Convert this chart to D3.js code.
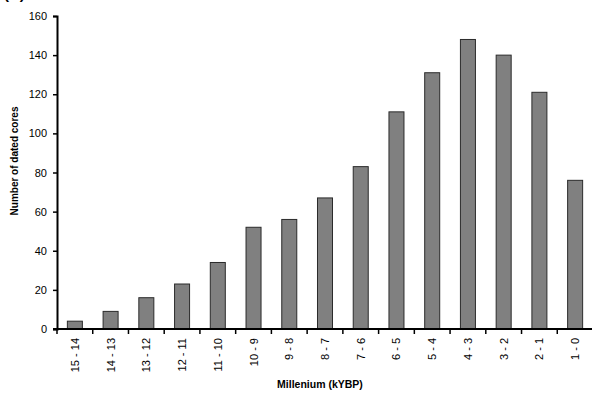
<!DOCTYPE html>
<html lang="en">
<head>
<meta charset="UTF-8">
<title>Dated cores</title>
<script src="https://cdn.jsdelivr.net/npm/d3@7"></script>
<style>
  body { margin: 0; background: #fff; }
  text { font-family: "Liberation Sans", Arial, sans-serif; }
</style>
</head>
<body>
<div class="chart"></div>
<script>
// data
const millennia = ['15 - 14','14 - 13','13 - 12','12 - 11','11 - 10','10 - 9','9 - 8','8 - 7',
                   '7 - 6','6 - 5','5 - 4','4 - 3','3 - 2','2 - 1','1 - 0']
const cores = [4, 9, 16, 23, 34, 52, 56, 67, 83, 111, 131, 148, 140, 121, 76]
const yTicks = [0, 20, 40, 60, 80, 100, 120, 140, 160]

const W = 592, H = 394
const mLeft = 57, mRight = 593, mTop = 16, mBottom = 329

let svg = d3.select('.chart').append('svg').attr('width', W).attr('height', H)

let x = d3.scaleBand().domain(millennia).range([mLeft, mRight]).paddingInner(0.58).paddingOuter(0.29)
let y = d3.scaleLinear().domain([0, 160]).range([mBottom, mTop])

// bars
svg.append('g').selectAll('rect').data(cores).join('rect')
    .attr('x', (d, i) => x(millennia[i]))
    .attr('y', d => y(d))
    .attr('width', x.bandwidth())
    .attr('height', d => y(0) - y(d))
    .attr('fill', '#808080')
    .attr('stroke', '#2b2b2b')
    .attr('stroke-width', 1)

// y axis
let yAxis = d3.axisLeft(y).tickValues(yTicks).tickSize(4).tickPadding(6)
let gy = svg.append('g').attr('transform', `translate(${mLeft},0)`).call(yAxis)
gy.select('.domain').attr('stroke', '#000').attr('stroke-width', 2)
gy.selectAll('.tick line').attr('stroke', '#000').attr('stroke-width', 1.5)
gy.selectAll('.tick text').attr('font-size', 11).attr('fill', '#000')
    .style('font-family', '"Liberation Sans", Arial, sans-serif')

// x axis: ticks between categories
let step = x.step()
let gx = svg.append('g').attr('transform', `translate(0,${mBottom})`)
gx.append('line').attr('x1', mLeft - 4).attr('x2', mRight).attr('stroke', '#000').attr('stroke-width', 2)
gx.selectAll('line.t').data(d3.range(millennia.length + 1)).join('line').attr('class', 't')
    .attr('x1', i => mLeft + i * step).attr('x2', i => mLeft + i * step)
    .attr('y1', 0).attr('y2', 5).attr('stroke', '#000').attr('stroke-width', 1.5)
gx.selectAll('text').data(millennia).join('text')
    .attr('transform', d => `translate(${x(d) + x.bandwidth() / 2 + 4},9) rotate(-90)`)
    .attr('text-anchor', 'end')
    .attr('font-size', 11)
    .text(d => d)

// titles
svg.append('text').attr('transform', 'translate(18,161) rotate(-90)')
    .attr('text-anchor', 'middle').attr('font-size', 10).attr('font-weight', 'bold')
    .text('Number of dated cores')
svg.append('text').attr('x', 320).attr('y', 388)
    .attr('text-anchor', 'middle').attr('font-size', 10.5).attr('font-weight', 'bold')
    .text('Millenium (kYBP)')
svg.append('text').attr('x', 4).attr('y', -1)
    .attr('font-size', 15).attr('font-weight', 'bold')
    .text('(A)')
</script>
</body>
</html>
